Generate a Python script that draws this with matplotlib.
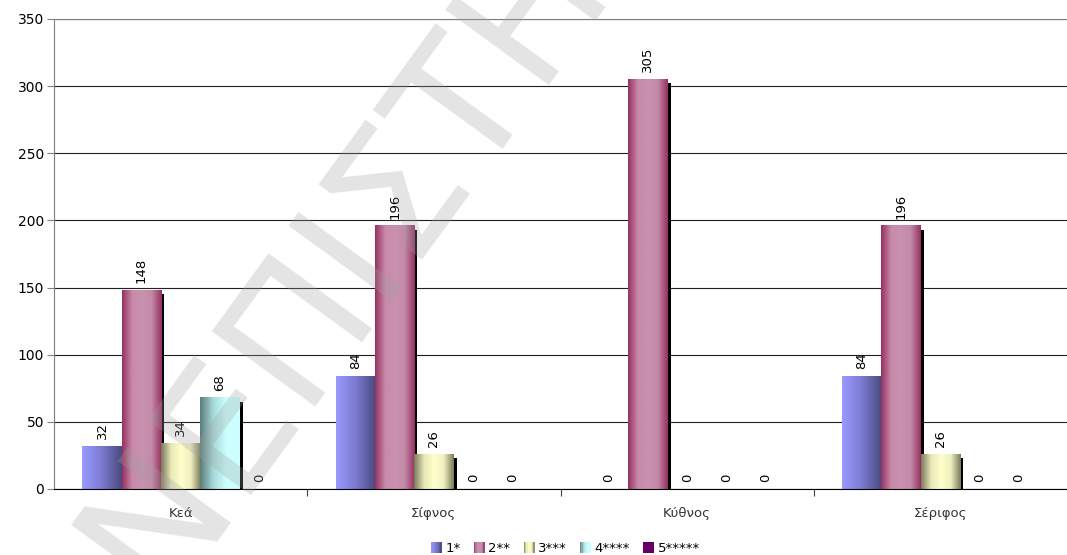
import numpy as np
import matplotlib
matplotlib.use("Agg")
from matplotlib import pyplot as plt
from matplotlib.colors import LinearSegmentedColormap
from matplotlib.patches import Rectangle
from matplotlib.transforms import IdentityTransform

islands = ["Κεά", "Σίφνος", "Κύθνος", "Σέριφος"]
series = ["1*", "2**", "3***", "4****", "5*****"]
s1 = [32, 84, 0, 84]
s2 = [148, 196, 305, 196]
s3 = [34, 26, 0, 26]
s4 = [68, 0, 0, 0]
s5 = [0, 0, 0, 0]
values = [s1, s2, s3, s4, s5]

# excel-like horizontal gradients
cmaps = [
    LinearSegmentedColormap.from_list("c1", ["#9a9aff", "#7a7ad0", "#4a4a80"]),
    LinearSegmentedColormap.from_list("c2", ["#963262", "#c88aa8", "#c892b0", "#c48aa8", "#963262"]),
    LinearSegmentedColormap.from_list("c3", ["#7c7c5c", "#e8e8b8", "#ffffcc", "#f0f0c0", "#7c7c5c"]),
    LinearSegmentedColormap.from_list("c4", ["#5c7c7c", "#a8dada", "#ccffff", "#ccffff"]),
    LinearSegmentedColormap.from_list("c5", ["#660066", "#660066"]),
]

fig = plt.figure(figsize=(10.67, 5.55), dpi=100)
ax = fig.add_axes([54 / 1067, 1 - 489 / 555, 1 - 54 / 1067, 470 / 555])

x = np.arange(len(islands))
w = 0.155
grad = np.linspace(0, 1, 64).reshape(1, -1)
for i, vals in enumerate(values):
    pos = x + (i - 2) * w
    bars = ax.bar(pos, vals, w, color="none", linewidth=0, zorder=3)
    for b, v in zip(bars, vals):
        bx, bw = b.get_x(), b.get_width()
        if v > 0:
            ax.imshow(grad, extent=[bx, bx + bw, 0, v], aspect="auto",
                      cmap=cmaps[i], interpolation="bilinear", zorder=3,
                      clip_path=b, clip_on=True)
            # drop shadow
            ax.add_patch(Rectangle((bx + bw, 0), 0.012, v - 3, color="black",
                                   lw=0, zorder=2))
        ax.annotate(str(v), (bx + bw / 2, v), xytext=(0, 5),
                    textcoords="offset points", rotation=90, ha="center",
                    va="bottom", fontsize=9.5, color="black", zorder=5)

ax.set_xlim(-0.5, 3.5)
ax.set_ylim(0, 350)
ax.set_yticks(range(0, 351, 50))
ax.yaxis.grid(True, color="#202020", lw=0.8)
ax.set_axisbelow(True)
ax.tick_params(axis="y", labelsize=10, length=5, color="#808080", pad=2)
ax.set_xticks([0.5, 1.5, 2.5], minor=False)
ax.set_xticklabels([])
ax.tick_params(axis="x", length=5, color="#404040")
ax.set_xticks(x, minor=True)
ax.set_xticklabels(islands, minor=True)
ax.tick_params(axis="x", which="minor", length=0, pad=13, labelsize=9.5,
               labelcolor="#333333")
ax.spines["right"].set_visible(False)
ax.spines["left"].set_color("#808080")
ax.spines["top"].set_color("#808080")
ax.spines["bottom"].set_color("black")
ax.spines["bottom"].set_zorder(4)


class GradHandler:
    def __init__(self, cmap):
        self.cmap = cmap

    def legend_artist(self, legend, orig_handle, fontsize, handlebox):
        x0, y0 = -handlebox.xdescent, -handlebox.ydescent
        hw, hh = handlebox.width, handlebox.height
        n = 8
        r = None
        for k in range(n):
            r = Rectangle((x0 + hw * k / n, y0), hw / n + 0.3, hh,
                          facecolor=self.cmap((k + 0.5) / n), lw=0,
                          transform=handlebox.get_transform())
            handlebox.add_artist(r)
        return r


handles = [Rectangle((0, 0), 1, 1) for _ in series]
fig.legend(handles, series, loc="lower center", bbox_to_anchor=(0.53, -0.022),
           ncol=5, frameon=False, fontsize=9.5, handlelength=0.8,
           handleheight=0.9, handletextpad=0.3, columnspacing=1.0,
           handler_map={h: GradHandler(c) for h, c in zip(handles, cmaps)})

# watermark (pixel coords, origin bottom-left)
fig.text(158, -45, "ΝΕΠΙΣΤΗΜΙΟ", transform=IdentityTransform(), fontsize=125,
         rotation=54, rotation_mode="anchor", ha="left", va="baseline",
         color="#a0a0a0", alpha=0.28, zorder=10)

fig.savefig("out.png", dpi=100)
